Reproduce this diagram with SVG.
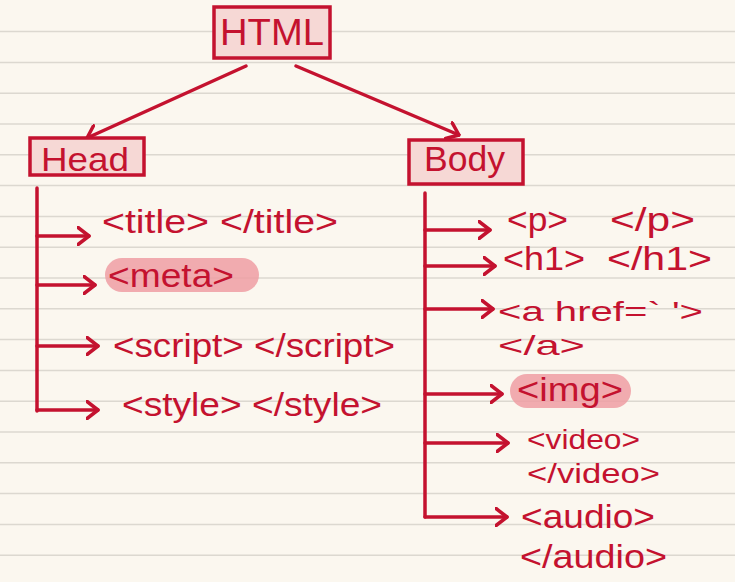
<svg xmlns="http://www.w3.org/2000/svg" width="735" height="582" viewBox="0 0 735 582">
<style>
.bg{fill:#fbf7ef}
.rule{stroke:#dcd8d0;stroke-width:1.5}
.box{fill:#f6d8d5;stroke:#c4122f;stroke-width:3.5}
.pill{fill:#ef9ea3;opacity:0.85}
.c{fill:none;stroke:#c4122f;stroke-width:3.5;stroke-linecap:round;stroke-linejoin:round}
.t{font-family:"Liberation Sans",Arial,sans-serif;fill:#c4122f;font-size:33px}
.s{font-family:"Liberation Sans",Arial,sans-serif;fill:#c4122f;font-size:28px}
.n{font-family:"Liberation Sans",Arial,sans-serif;fill:#c4122f}
</style>
<defs>
<marker id="ah" viewBox="0 0 14 20" refX="12.5" refY="10" markerWidth="14" markerHeight="20" markerUnits="userSpaceOnUse" orient="auto">
<path d="M1.5,1.5 L12.5,10 L1.5,18.5" fill="none" stroke="#c4122f" stroke-width="3.5" stroke-linecap="round" stroke-linejoin="round"/>
</marker>
</defs>
<rect class="bg" x="0" y="0" width="735" height="582"/>
<g id="rules">
<line class="rule" x1="0" y1="31.6" x2="735" y2="31.6"/>
<line class="rule" x1="0" y1="62.4" x2="735" y2="62.4"/>
<line class="rule" x1="0" y1="93.2" x2="735" y2="93.2"/>
<line class="rule" x1="0" y1="124" x2="735" y2="124"/>
<line class="rule" x1="0" y1="154.8" x2="735" y2="154.8"/>
<line class="rule" x1="0" y1="185.6" x2="735" y2="185.6"/>
<line class="rule" x1="0" y1="216.4" x2="735" y2="216.4"/>
<line class="rule" x1="0" y1="247.2" x2="735" y2="247.2"/>
<line class="rule" x1="0" y1="278" x2="735" y2="278"/>
<line class="rule" x1="0" y1="308.8" x2="735" y2="308.8"/>
<line class="rule" x1="0" y1="339.6" x2="735" y2="339.6"/>
<line class="rule" x1="0" y1="370.4" x2="735" y2="370.4"/>
<line class="rule" x1="0" y1="401.2" x2="735" y2="401.2"/>
<line class="rule" x1="0" y1="432" x2="735" y2="432"/>
<line class="rule" x1="0" y1="462.8" x2="735" y2="462.8"/>
<line class="rule" x1="0" y1="493.6" x2="735" y2="493.6"/>
<line class="rule" x1="0" y1="524.4" x2="735" y2="524.4"/>
<line class="rule" x1="0" y1="555.2" x2="735" y2="555.2"/>
</g>
<g id="connectors">
<line class="c" x1="246" y1="66" x2="87" y2="138" marker-end="url(#ah)"/>
<line class="c" x1="296" y1="66" x2="459" y2="135" marker-end="url(#ah)"/>
<line class="c" x1="37" y1="188" x2="37" y2="411"/>
<line class="c" x1="37" y1="236" x2="89" y2="236" marker-end="url(#ah)"/>
<line class="c" x1="37" y1="285" x2="95" y2="285" marker-end="url(#ah)"/>
<line class="c" x1="37" y1="346" x2="98" y2="346" marker-end="url(#ah)"/>
<line class="c" x1="37" y1="410" x2="98" y2="410" marker-end="url(#ah)"/>
<line class="c" x1="425" y1="193" x2="425" y2="517"/>
<line class="c" x1="425" y1="230" x2="490" y2="230" marker-end="url(#ah)"/>
<line class="c" x1="425" y1="266" x2="495" y2="266" marker-end="url(#ah)"/>
<line class="c" x1="425" y1="309" x2="493" y2="309" marker-end="url(#ah)"/>
<line class="c" x1="425" y1="394" x2="502" y2="394" marker-end="url(#ah)"/>
<line class="c" x1="425" y1="443" x2="508" y2="443" marker-end="url(#ah)"/>
<line class="c" x1="425" y1="517" x2="507" y2="517" marker-end="url(#ah)"/>
</g>
<g id="html">
<rect class="box" x="214" y="7" width="116" height="51"/>
<text class="n" x="272" y="45" font-size="37" text-anchor="middle" textLength="104" lengthAdjust="spacingAndGlyphs">HTML</text>
</g>
<g id="head">
<rect class="box" x="30" y="138" width="114" height="37"/>
<text class="n" x="41" y="171" font-size="33" textLength="88" lengthAdjust="spacingAndGlyphs">Head</text>
</g>
<g id="body">
<rect class="box" x="409" y="140" width="114" height="44"/>
<text class="n" x="424" y="171" font-size="35" textLength="81" lengthAdjust="spacingAndGlyphs">Body</text>
</g>
<g id="title">
<text class="t" x="102" y="233" textLength="236" lengthAdjust="spacingAndGlyphs">&lt;title&gt; &lt;/title&gt;</text>
</g>
<g id="meta">
<rect class="pill" x="105" y="258" width="154" height="34" rx="17"/>
<text class="t" x="108" y="287" textLength="126" lengthAdjust="spacingAndGlyphs">&lt;meta&gt;</text>
</g>
<g id="script">
<text class="t" x="113" y="357" textLength="282" lengthAdjust="spacingAndGlyphs">&lt;script&gt; &lt;/script&gt;</text>
</g>
<g id="style-tag">
<text class="t" x="122" y="416" textLength="260" lengthAdjust="spacingAndGlyphs">&lt;style&gt; &lt;/style&gt;</text>
</g>
<g id="p">
<text class="t" y="231"><tspan x="507" textLength="61" lengthAdjust="spacingAndGlyphs">&lt;p&gt;</tspan> <tspan x="610" textLength="85" lengthAdjust="spacingAndGlyphs">&lt;/p&gt;</tspan></text>
</g>
<g id="h1">
<text class="t" y="270"><tspan x="503" textLength="82" lengthAdjust="spacingAndGlyphs">&lt;h1&gt;</tspan> <tspan x="607" textLength="105" lengthAdjust="spacingAndGlyphs">&lt;/h1&gt;</tspan></text>
</g>
<g id="a">
<text class="s" x="498" y="321" font-size="27" textLength="205" lengthAdjust="spacingAndGlyphs">&lt;a href=` '&gt;</text>
<text class="s" x="498" y="355" font-size="27" textLength="87" lengthAdjust="spacingAndGlyphs">&lt;/a&gt;</text>
</g>
<g id="img">
<rect class="pill" x="510" y="374" width="121" height="34" rx="17"/>
<text class="t" x="517" y="401" textLength="106" lengthAdjust="spacingAndGlyphs">&lt;img&gt;</text>
</g>
<g id="video">
<text class="s" x="527" y="449" textLength="113" lengthAdjust="spacingAndGlyphs">&lt;video&gt;</text>
<text class="s" x="527" y="483" textLength="133" lengthAdjust="spacingAndGlyphs">&lt;/video&gt;</text>
</g>
<g id="audio">
<text class="t" x="521" y="528" textLength="134" lengthAdjust="spacingAndGlyphs">&lt;audio&gt;</text>
<text class="t" x="520" y="568" textLength="147" lengthAdjust="spacingAndGlyphs">&lt;/audio&gt;</text>
</g>
</svg>
